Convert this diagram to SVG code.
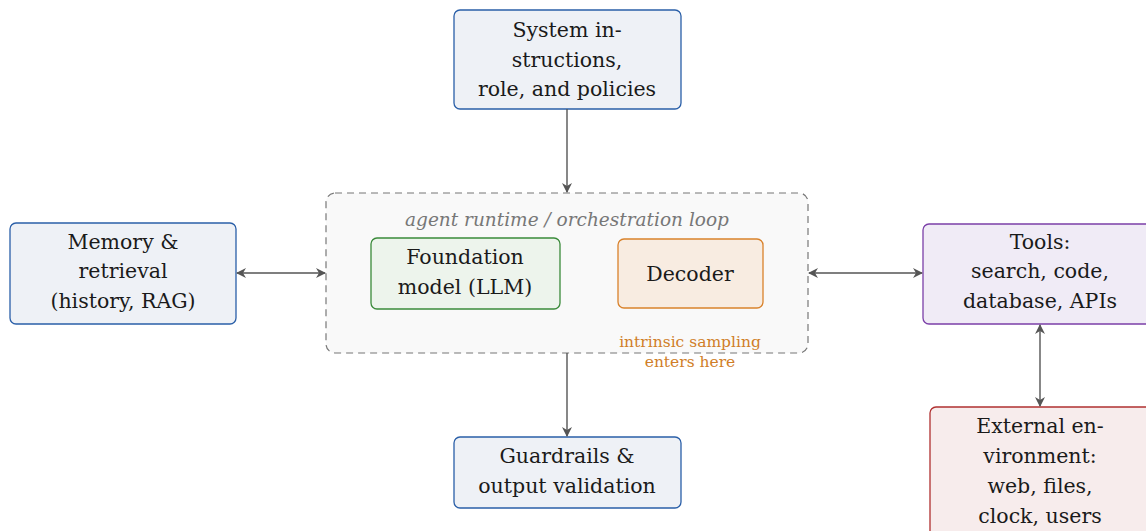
<svg xmlns="http://www.w3.org/2000/svg" width="1146" height="531" viewBox="0 0 1146 531">
<style>
text{font-family:"DejaVu Serif","Liberation Serif",serif;font-size:20.5px;fill:#1a1a1a;text-anchor:middle}
.blue{fill:#eef1f6;stroke:#2a5fa8;stroke-width:1.3}
.c{stroke:#555;stroke-width:1.4;fill:none}
.it{font-style:italic;fill:#777;font-size:18.5px}
.or{fill:#d07e28;font-size:15.5px}
</style>
<defs>
<marker id="ah" viewBox="0 0 10 10" refX="9" refY="5" markerWidth="10" markerHeight="10" markerUnits="userSpaceOnUse" orient="auto-start-reverse">
<path d="M0,0 L10,5 L0,10 L3,5 Z" fill="#555"/>
</marker>
</defs>
<rect width="1146" height="531" fill="#fff"/>
<g id="runtime">
<rect x="326" y="193" width="482" height="160" rx="9" fill="#f9f9f9" stroke="#777" stroke-width="1.2" stroke-dasharray="7,5"/>
<text x="567" y="226" class="it">agent runtime / orchestration loop</text>
<text x="690" y="347" class="or">intrinsic sampling</text>
<text x="690" y="367" class="or">enters here</text>
</g>
<g id="system">
<rect x="454" y="10" width="227" height="99" rx="6" class="blue"/>
<text x="567" y="37">System in-</text>
<text x="567" y="67">structions,</text>
<text x="567" y="96">role, and policies</text>
</g>
<g id="llm">
<rect x="371" y="238" width="189" height="71" rx="6" fill="#edf4ec" stroke="#3a8a3a" stroke-width="1.3"/>
<text x="465" y="264">Foundation</text>
<text x="465" y="294">model (LLM)</text>
</g>
<g id="decoder">
<rect x="618" y="239" width="145" height="69" rx="6" fill="#f8ece1" stroke="#d9822b" stroke-width="1.3"/>
<text x="690" y="281">Decoder</text>
</g>
<g id="memory">
<rect x="10" y="223" width="226" height="101" rx="6" class="blue"/>
<text x="123" y="249">Memory &amp;</text>
<text x="123" y="278">retrieval</text>
<text x="123" y="308">(history, RAG)</text>
</g>
<g id="tools">
<rect x="923" y="224" width="230" height="100" rx="6" fill="#f0ebf6" stroke="#7b3fa8" stroke-width="1.3"/>
<text x="1040" y="249">Tools:</text>
<text x="1040" y="278">search, code,</text>
<text x="1040" y="308">database, APIs</text>
</g>
<g id="external">
<rect x="930" y="407" width="225" height="140" rx="6" fill="#f7ecec" stroke="#b03030" stroke-width="1.3"/>
<text x="1040" y="433">External en-</text>
<text x="1040" y="463">vironment:</text>
<text x="1040" y="493">web, files,</text>
<text x="1040" y="523">clock, users</text>
</g>
<g id="guardrails">
<rect x="454" y="437" width="227" height="71" rx="6" class="blue"/>
<text x="567" y="463">Guardrails &amp;</text>
<text x="567" y="493">output validation</text>
</g>
<g id="connectors">
<line x1="567" y1="109" x2="567" y2="192" class="c" marker-end="url(#ah)"/>
<line x1="567" y1="353" x2="567" y2="436" class="c" marker-end="url(#ah)"/>
<line x1="237" y1="273" x2="325" y2="273" class="c" marker-start="url(#ah)" marker-end="url(#ah)"/>
<line x1="809" y1="273" x2="922" y2="273" class="c" marker-start="url(#ah)" marker-end="url(#ah)"/>
<line x1="1040" y1="325" x2="1040" y2="406" class="c" marker-start="url(#ah)" marker-end="url(#ah)"/>
</g>
</svg>
